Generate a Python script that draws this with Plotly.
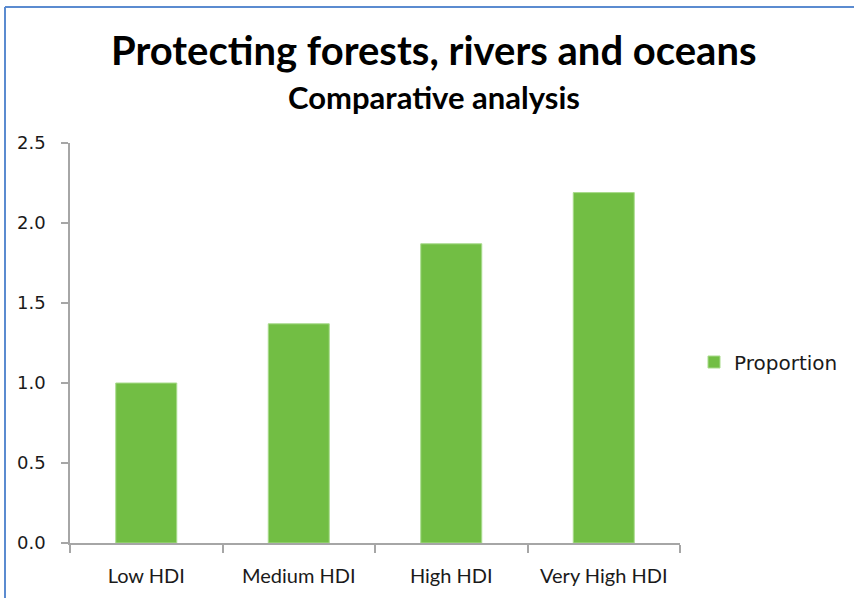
import plotly.graph_objects as go

categories = ["Low HDI", "Medium HDI", "High HDI", "Very High HDI"]
proportion = [1.0, 1.37, 1.87, 2.19]
y_ticks = [0.0, 0.5, 1.0, 1.5, 2.0, 2.5]

title_text = "Protecting forests, rivers and oceans"
subtitle_text = "Comparative analysis"
series_name = "Proportion"

GREEN = "#72BE44"
AXIS = "#A6A6A6"

fig = go.Figure()
fig.add_trace(go.Bar(
    x=categories, y=proportion, name=series_name,
    marker=dict(color=GREEN, line=dict(color="#A9DB8C", width=1)),
    showlegend=True,
))

W, H = 854, 598
L, R, T, B = 70, 174, 143, 55
pw = W - L - R
ph = H - T - B

def px_x(x):
    return (x - L) / pw

def px_y(y):
    return (H - B - y) / ph

fig.update_layout(
    width=W, height=H,
    margin=dict(l=L, r=R, t=T, b=B, autoexpand=False),
    paper_bgcolor="white", plot_bgcolor="white",
    bargap=0.6,
    showlegend=True,
    legend=dict(x=px_x(694), y=px_y(362), xanchor="left", yanchor="middle",
                font=dict(family="DejaVu Sans", size=20, color="#1a1a1a"),
                bgcolor="rgba(0,0,0,0)"),
    xaxis=dict(
        showline=True, linecolor=AXIS, linewidth=1.5,
        ticks="outside", ticklen=8, tickcolor=AXIS, tickwidth=1.5,
        tickson="boundaries",
        tickfont=dict(family="Lato", size=20, color="#1a1a1a"),
        ticklabelstandoff=14,
        showgrid=False,
    ),
    yaxis=dict(
        range=[0, 2.5], tickvals=y_ticks, tickformat=".1f",
        showline=True, linecolor=AXIS, linewidth=1.5,
        ticks="outside", ticklen=7, tickcolor=AXIS, tickwidth=1.5,
        tickfont=dict(family="DejaVu Sans", size=18, color="#1a1a1a"),
        ticklabelstandoff=12,
        showgrid=False, zeroline=False,
    ),
    annotations=[
        dict(text="<b>" + title_text + "</b>", xref="paper", yref="paper",
             x=px_x(434), y=px_y(50), xanchor="center", yanchor="middle",
             showarrow=False, font=dict(family="Lato", size=40, color="black")),
        dict(text="<b>" + subtitle_text + "</b>", xref="paper", yref="paper",
             x=px_x(434), y=px_y(97), xanchor="center", yanchor="middle",
             showarrow=False, font=dict(family="Lato", size=31, color="black")),
    ],
    shapes=[
        dict(type="line", xref="paper", yref="paper", x0=px_x(5), x1=px_x(5),
             y0=px_y(7), y1=px_y(620), line=dict(color="#5B8BD0", width=2)),
        dict(type="line", xref="paper", yref="paper", x0=px_x(5), x1=px_x(900),
             y0=px_y(7), y1=px_y(7), line=dict(color="#5B8BD0", width=2)),
    ],
)

fig.write_html("out.html")
